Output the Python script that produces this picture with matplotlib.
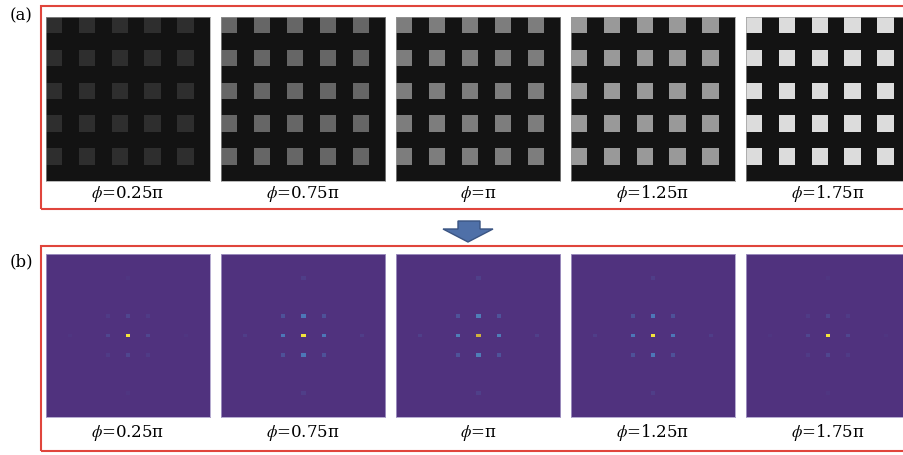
import matplotlib
matplotlib.use("Agg")
import matplotlib.pyplot as plt
import numpy as np
from matplotlib.colors import LinearSegmentedColormap
from matplotlib.patches import Rectangle, Polygon

W, H = 904, 456

# phase labels and what the picture shows for each one
phases = ['0.25π', '0.75π', 'π', '1.25π', '1.75π']
square_gray = [0.18, 0.40, 0.49, 0.60, 0.86]   # brightness of the squares, panel (a)
background_gray = 0.075

# diffraction spots, panel (b) (0 = background, 1 = brightest)
center_peak = [1.0, 1.0, 0.85, 1.0, 1.0]
first_axial = [0.10, 0.33, 0.36, 0.33, 0.10]
first_diag = [0.05, 0.15, 0.16, 0.15, 0.05]
third_axial = [0.02, 0.06, 0.07, 0.06, 0.02]

plt.rcParams['mathtext.fontset'] = 'stix'
plt.rcParams['font.family'] = ['DejaVu Serif', 'Liberation Serif']

spec_cmap = LinearSegmentedColormap.from_list(
    'spec', [(0.0, '#50327e'), (0.35, '#4d7cbc'), (0.7, '#8fbf5a'),
             (0.85, '#d0b23c'), (1.0, '#f4e53a')])


def fig_box(x, y, w, h):
    # pixel box measured from the top-left corner -> figure fraction
    return [x / W, 1 - (y + h) / H, w / W, h / H]


def fpt(x, y):
    return (x / W, 1 - y / H)


fig = plt.figure(figsize=(W / 100, H / 100), dpi=100)

idx = np.arange(10)
mask = (idx[:, None] % 2 == 0) & (idx[None, :] % 2 == 0)

N = 82
c = 40
step = 9.75

for i in range(5):
    left = 46 + 175 * i

    # (a) grating
    ax = fig.add_axes(fig_box(left, 18, 164, 164))
    img = np.where(mask, square_gray[i], background_gray)
    ax.imshow(img, cmap='gray', vmin=0, vmax=1, interpolation='nearest', aspect='auto')
    ax.set_xticks([])
    ax.set_yticks([])
    for s in ax.spines.values():
        s.set_color('#9a9a9a')
        s.set_linewidth(0.5)

    # (b) spectrum
    spots = [((0, 0), center_peak[i])]
    spots += [(o, first_axial[i]) for o in [(1, 0), (-1, 0), (0, 1), (0, -1)]]
    spots += [(o, first_diag[i]) for o in [(1, 1), (1, -1), (-1, 1), (-1, -1)]]
    spots += [(o, third_axial[i]) for o in [(3, 0), (-3, 0), (0, 3), (0, -3)]]
    grid = np.zeros((N, N))
    for (kx, ky), v in spots:
        r = c + int(round(ky * step))
        q = c + int(round(kx * step))
        grid[r:r + 2, q:q + 2] = v

    bx = fig.add_axes(fig_box(left, 255, 164, 163))
    bx.imshow(grid, cmap=spec_cmap, vmin=0, vmax=1, interpolation='nearest', aspect='auto')
    bx.set_xticks([])
    bx.set_yticks([])
    for s in bx.spines.values():
        s.set_color('#a89cc8')
        s.set_linewidth(0.6)

    fig.text((left + 82) / W, 1 - 194 / H, '$\\phi$=' + phases[i],
             ha='center', va='center', fontsize=12)
    fig.text((left + 82) / W, 1 - 433 / H, '$\\phi$=' + phases[i],
             ha='center', va='center', fontsize=12)

# red frames (open on the right, cut by the page edge)
for top, bot in [(7, 210), (247, 452)]:
    fig.patches.append(Rectangle(fpt(41, bot), (W + 20 - 41) / W, (bot - top) / H,
                                 transform=fig.transFigure, fill=False,
                                 ec='#e0453c', lw=1.5, clip_on=False))

fig.text(10 / W, 1 - 16 / H, '(a)', ha='left', va='center', fontsize=12)
fig.text(10 / W, 1 - 262 / H, '(b)', ha='left', va='center', fontsize=12)

# arrow between the two panels
arrow = [fpt(458, 222), fpt(480, 222), fpt(480, 230), fpt(493, 230),
         fpt(468, 243), fpt(443, 230), fpt(458, 230)]
fig.patches.append(Polygon(arrow, closed=True, transform=fig.transFigure,
                           fc='#4f70a8', ec='#3a5482', lw=1.0))

fig.savefig('out.png', dpi=100)
